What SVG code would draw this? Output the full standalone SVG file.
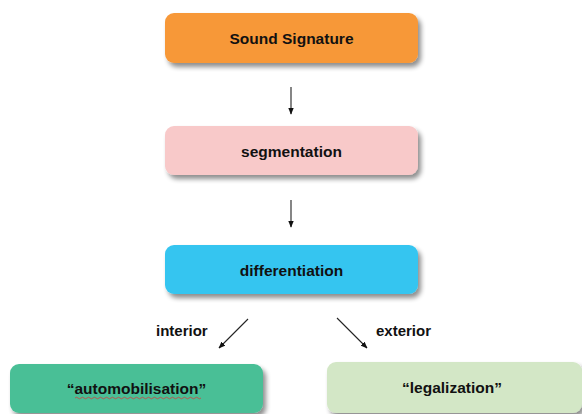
<svg xmlns="http://www.w3.org/2000/svg" width="582" height="414" viewBox="0 0 582 414">
<defs>
<filter id="sh" x="-10%" y="-20%" width="125%" height="160%">
<feGaussianBlur in="SourceAlpha" stdDeviation="2.5"/>
<feOffset dx="3" dy="4" result="b"/>
<feComponentTransfer><feFuncA type="linear" slope="0.45"/></feComponentTransfer>
<feMerge><feMergeNode/><feMergeNode in="SourceGraphic"/></feMerge>
</filter>
<marker id="ah" viewBox="0 0 10 10" refX="9" refY="5" markerWidth="7" markerHeight="7" orient="auto" markerUnits="userSpaceOnUse">
<path d="M0,1 L10,5 L0,9 Z" fill="#111"/>
</marker>
<style>
.box{filter:url(#sh)}
.t{font-family:"Liberation Sans",Arial,sans-serif;font-weight:bold;font-size:15.5px;fill:#111;text-anchor:middle}
.lbl{font-family:"Liberation Sans",Arial,sans-serif;font-weight:bold;font-size:15px;fill:#111}
.c{stroke:#222;stroke-width:1.1;fill:none;marker-end:url(#ah)}
</style>
</defs>
<rect width="582" height="414" fill="#fff"/>
<g id="sound-signature">
<rect class="box" x="165" y="13" width="253" height="50" rx="9" fill="#F79839"/>
<text class="t" x="291.5" y="44">Sound Signature</text>
</g>
<g id="segmentation">
<rect class="box" x="165" y="126" width="253" height="49" rx="9" fill="#F8C9C9"/>
<text class="t" x="291.5" y="157">segmentation</text>
</g>
<g id="differentiation">
<rect class="box" x="165" y="245" width="253" height="49" rx="9" fill="#35C5F0"/>
<text class="t" x="291.5" y="276">differentiation</text>
</g>
<g id="automobilisation">
<rect class="box" x="10" y="364" width="253" height="49" rx="9" fill="#4ABF96"/>
<text class="t" x="136.5" y="394">“automobilisation”</text>
<path d="M75,398 q1.5,-1.5 3,0 t3,0 t3,0 t3,0 t3,0 t3,0 t3,0 t3,0 t3,0 t3,0 t3,0 t3,0 t3,0 t3,0 t3,0 t3,0 t3,0 t3,0 t3,0 t3,0 t3,0 t3,0 t3,0 t3,0 t3,0 t3,0 t3,0 t3,0 t3,0 t3,0 t3,0 t3,0 t3,0 t3,0 t3,0 t3,0 t3,0 t3,0 t3,0 t3,0 t3,0 t3,0" stroke="#d04040" stroke-width="0.8" fill="none"/>
</g>
<g id="legalization">
<rect class="box" x="327" y="362" width="255" height="51" rx="9" fill="#D3E7C6"/>
<text class="t" x="452" y="393">“legalization”</text>
</g>
<g id="connectors">
<line class="c" x1="291" y1="87" x2="291" y2="114"/>
<line class="c" x1="291" y1="200" x2="291" y2="227"/>
<line class="c" x1="248" y1="319" x2="219" y2="348"/>
<line class="c" x1="337" y1="318" x2="367" y2="348"/>
<text class="lbl" x="156" y="336">interior</text>
<text class="lbl" x="376" y="336">exterior</text>
</g>
</svg>
